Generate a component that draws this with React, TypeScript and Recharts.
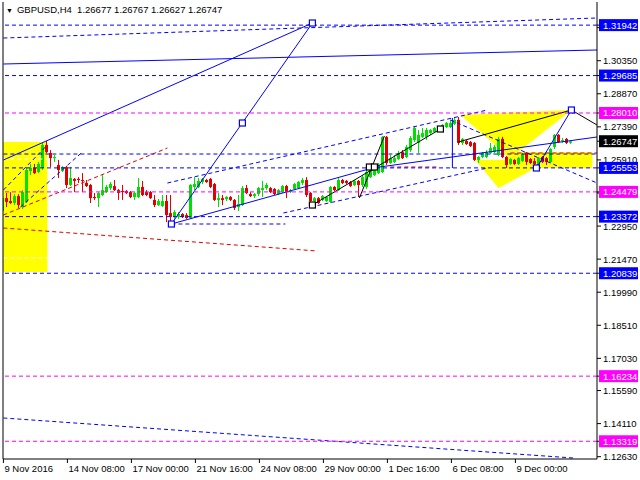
import React from "react";
import {
  ComposedChart,
  Bar,
  XAxis,
  YAxis,
  ReferenceLine,
  ReferenceArea,
  ReferenceDot,
} from "recharts";

// GBPUSD H4 candles (open / high / low / close)
const opens = [
  1.2362, 1.2420, 1.2407, 1.2398, 1.2429, 1.2380, 1.2403, 1.2541, 1.2555, 1.2537,
  1.2555, 1.2658, 1.2622, 1.2599, 1.2568, 1.2541, 1.2559, 1.2479, 1.2506, 1.2506,
  1.2501, 1.2488, 1.2479, 1.2425, 1.2420, 1.2434, 1.2447, 1.2465, 1.2474, 1.2456,
  1.2452, 1.2452, 1.2447, 1.2425, 1.2425, 1.2470, 1.2447, 1.2447, 1.2412, 1.2389,
  1.2385, 1.2407, 1.2353, 1.2336, 1.2336, 1.2349, 1.2344, 1.2331, 1.2470, 1.2470,
  1.2492, 1.2501, 1.2506, 1.2483, 1.2412, 1.2420, 1.2416, 1.2425, 1.2412, 1.2380,
  1.2389, 1.2465, 1.2438, 1.2429, 1.2438, 1.2456, 1.2465, 1.2465, 1.2461, 1.2438,
  1.2447, 1.2474, 1.2447, 1.2461, 1.2465, 1.2488, 1.2501, 1.2443, 1.2407, 1.2420,
  1.2412, 1.2407, 1.2403, 1.2470, 1.2456, 1.2501, 1.2497, 1.2492, 1.2479, 1.2497,
  1.2479, 1.2470, 1.2514, 1.2523, 1.2532, 1.2537, 1.2694, 1.2577, 1.2582, 1.2595,
  1.2626, 1.2604, 1.2635, 1.2680, 1.2667, 1.2694, 1.2694, 1.2711, 1.2716, 1.2725,
  1.2738, 1.2738, 1.2738, 1.2752, 1.2770, 1.2667, 1.2676, 1.2671, 1.2667, 1.2591,
  1.2604, 1.2604, 1.2622, 1.2626, 1.2613, 1.2685, 1.2604, 1.2573, 1.2591, 1.2573,
  1.2586, 1.2622, 1.2595, 1.2586, 1.2568, 1.2604, 1.2599, 1.2582, 1.2649, 1.2703,
  1.2676, 1.2685, 1.26677,
];
const highs = [
  1.2443, 1.2443, 1.2447, 1.2438, 1.2438, 1.2456, 1.2555, 1.2573, 1.2573, 1.2582,
  1.2667, 1.2676, 1.2635, 1.2613, 1.2591, 1.2564, 1.2564, 1.2559, 1.2510, 1.2514,
  1.2532, 1.2501, 1.2483, 1.2443, 1.2447, 1.2523, 1.2479, 1.2492, 1.2501, 1.2461,
  1.2479, 1.2456, 1.2452, 1.2447, 1.2510, 1.2497, 1.2456, 1.2452, 1.2434, 1.2416,
  1.2434, 1.2434, 1.2434, 1.2367, 1.2358, 1.2353, 1.2353, 1.2483, 1.2514, 1.2510,
  1.2510, 1.2506, 1.2510, 1.2488, 1.2443, 1.2434, 1.2429, 1.2429, 1.2416, 1.2434,
  1.2474, 1.2479, 1.2447, 1.2443, 1.2470, 1.2497, 1.2488, 1.2470, 1.2465, 1.2461,
  1.2479, 1.2479, 1.2461, 1.2488, 1.2497, 1.2510, 1.2514, 1.2447, 1.2425, 1.2425,
  1.2434, 1.2429, 1.2474, 1.2474, 1.2510, 1.2506, 1.2501, 1.2497, 1.2501, 1.2501,
  1.2523, 1.2546, 1.2564, 1.2555, 1.2577, 1.2698, 1.2698, 1.2613, 1.2613, 1.2631,
  1.2635, 1.2658, 1.2698, 1.2743, 1.2725, 1.2734, 1.2734, 1.2729, 1.2738, 1.2743,
  1.2752, 1.2761, 1.2770, 1.2779, 1.2783, 1.2689, 1.2680, 1.2676, 1.2671, 1.2608,
  1.2626, 1.2635, 1.2667, 1.2658, 1.2694, 1.2694, 1.2608, 1.2599, 1.2595, 1.2604,
  1.2622, 1.2626, 1.2599, 1.2599, 1.2604, 1.2608, 1.2604, 1.2644, 1.2707, 1.2707,
  1.2689, 1.2689, 1.26767,
];
const lows = [
  1.2353, 1.2380, 1.2394, 1.2389, 1.2376, 1.2371, 1.2398, 1.2523, 1.2528, 1.2532,
  1.2546, 1.2622, 1.2559, 1.2582, 1.2510, 1.2537, 1.2465, 1.2474, 1.2447, 1.2488,
  1.2447, 1.2470, 1.2398, 1.2412, 1.2380, 1.2429, 1.2443, 1.2456, 1.2452, 1.2412,
  1.2412, 1.2438, 1.2420, 1.2412, 1.2420, 1.2429, 1.2429, 1.2416, 1.2380, 1.2385,
  1.2380, 1.2313, 1.2309, 1.2327, 1.2327, 1.2331, 1.2327, 1.2327, 1.2456, 1.2465,
  1.2483, 1.2488, 1.2465, 1.2407, 1.2380, 1.2389, 1.2407, 1.2407, 1.2367, 1.2362,
  1.2385, 1.2438, 1.2425, 1.2420, 1.2429, 1.2425, 1.2456, 1.2443, 1.2434, 1.2434,
  1.2443, 1.2420, 1.2443, 1.2456, 1.2461, 1.2479, 1.2425, 1.2398, 1.2403, 1.2394,
  1.2407, 1.2403, 1.2398, 1.2452, 1.2452, 1.2483, 1.2483, 1.2470, 1.2474, 1.2425,
  1.2470, 1.2461, 1.2510, 1.2519, 1.2528, 1.2532, 1.2568, 1.2573, 1.2577, 1.2591,
  1.2595, 1.2599, 1.2626, 1.2671, 1.2622, 1.2689, 1.2680, 1.2703, 1.2711, 1.2720,
  1.2729, 1.2734, 1.2734, 1.2747, 1.2658, 1.2658, 1.2658, 1.2649, 1.2586, 1.2577,
  1.2599, 1.2599, 1.2617, 1.2622, 1.2608, 1.2599, 1.2555, 1.2568, 1.2568, 1.2568,
  1.2582, 1.2568, 1.2573, 1.2559, 1.2564, 1.2577, 1.2568, 1.2577, 1.2640, 1.2667,
  1.2667, 1.2662, 1.26627,
];
const closes = [
  1.2420, 1.2403, 1.2398, 1.2429, 1.2389, 1.2447, 1.2546, 1.2555, 1.2532, 1.2573,
  1.2658, 1.2626, 1.2599, 1.2604, 1.2546, 1.2559, 1.2479, 1.2510, 1.2497, 1.2501,
  1.2497, 1.2474, 1.2420, 1.2420, 1.2443, 1.2456, 1.2470, 1.2483, 1.2456, 1.2443,
  1.2447, 1.2443, 1.2425, 1.2443, 1.2470, 1.2434, 1.2434, 1.2420, 1.2389, 1.2407,
  1.2407, 1.2344, 1.2336, 1.2358, 1.2349, 1.2336, 1.2331, 1.2479, 1.2483, 1.2497,
  1.2506, 1.2492, 1.2470, 1.2412, 1.2420, 1.2412, 1.2425, 1.2412, 1.2376, 1.2394,
  1.2465, 1.2443, 1.2429, 1.2438, 1.2465, 1.2465, 1.2479, 1.2447, 1.2438, 1.2456,
  1.2474, 1.2447, 1.2456, 1.2483, 1.2492, 1.2501, 1.2434, 1.2407, 1.2420, 1.2398,
  1.2429, 1.2425, 1.2470, 1.2456, 1.2501, 1.2488, 1.2488, 1.2474, 1.2497, 1.2479,
  1.2514, 1.2537, 1.2555, 1.2546, 1.2568, 1.2694, 1.2577, 1.2599, 1.2599, 1.2622,
  1.2599, 1.2649, 1.2689, 1.2734, 1.2703, 1.2711, 1.2725, 1.2725, 1.2734, 1.2738,
  1.2747, 1.2756, 1.2756, 1.2770, 1.2667, 1.2685, 1.2662, 1.2653, 1.2591, 1.2604,
  1.2622, 1.2626, 1.2644, 1.2649, 1.2685, 1.2604, 1.2568, 1.2595, 1.2573, 1.2599,
  1.2617, 1.2582, 1.2577, 1.2573, 1.2599, 1.2582, 1.2582, 1.2640, 1.2703, 1.2671,
  1.2680, 1.2667, 1.26747,
];

const dateLabels = [
  "9 Nov 2016",
  "14 Nov 08:00",
  "17 Nov 00:00",
  "21 Nov 16:00",
  "24 Nov 08:00",
  "29 Nov 00:00",
  "1 Dec 16:00",
  "6 Dec 08:00",
  "9 Dec 00:00",
];
const dateTicks = dateLabels.map((_, k) => k * 16);

const priceTicks = [
  1.3183, 1.3035, 1.2887, 1.2739, 1.2591, 1.2443, 1.2295, 1.2147, 1.1999, 1.1851,
  1.1703, 1.1559, 1.1411, 1.1263,
];

// horizontal levels with their price tags on the right
const blueLevels = [1.31942, 1.29685, 1.25553, 1.23372, 1.20839];
const magentaLevels = [1.2801, 1.24479, 1.16234, 1.13319];
const lastPrice = 1.26747;

// trend lines: [barFrom, priceFrom, barTo, priceTo]
const blueSolid = [
  [0, 1.30202, 148.4, 1.30829],
  [0, 1.25906, 77.25, 1.32037],
  [77.25, 1.32037, 42, 1.23042],
  [42, 1.23042, 92.25, 1.25548],
  [92.25, 1.25548, 148.4, 1.26936],
  [112.25, 1.27786, 112.25, 1.25548],
  [142, 1.28144, 133.75, 1.25682],
];
const blueDashed = [
  [0, 1.31365, 148.4, 1.32261],
  [41, 1.24877, 121, 1.28144],
  [111.75, 1.27696, 148.4, 1.24877],
  [0, 1.14361, 142.5, 1.1257],
  [42, 1.23042, 70.5, 1.23042],
  [0, 1.26174, 148.4, 1.26174],
  [70, 1.23534, 121, 1.25548],
  [0, 1.24564, 11, 1.26577],
  [4.25, 1.23803, 19.75, 1.26264],
];
const redDashed = [
  [0, 1.23445, 41, 1.26443],
  [0, 1.22863, 78.5, 1.21834],
  [96.75, 1.25593, 108.5, 1.25593],
  [126.75, 1.26219, 148.4, 1.26219],
];
const blackLines = [
  [77.25, 1.23892, 109.25, 1.27293],
  [89, 1.24206, 95.25, 1.2698],
  [113.75, 1.26712, 142, 1.28144],
  [142, 1.28144, 148.4, 1.27472],
];
const whiteDashed = [
  [0, 1.25951, 11, 1.25951],
  [0, 1.21521, 11, 1.21521],
];

// yellow patterns
const yellowBoxes = [
  [-0.1, 1.20894, 11, 1.26712],
  [125.5, 1.25548, 147.25, 1.26264],
];
const yellowTriangles = [
  [[114.25, 1.2792], [142, 1.28144], [126.75, 1.25996]],
  [[118, 1.25906], [136.75, 1.25906], [123.75, 1.24653]],
];

const blueSquares = [
  [77.25, 1.32037],
  [59.75, 1.27562],
  [42, 1.23042],
  [142, 1.28144],
  [133.25, 1.25548],
];
const blackSquares = [
  [77.25, 1.23892],
  [91.5, 1.25593],
  [92.75, 1.25593],
  [109.25, 1.27293],
];

const data = opens.map((o, i) => ({
  i,
  o,
  h: highs[i],
  l: lows[i],
  c: closes[i],
}));

const GREEN = "#00e000";
const RED = "#e00000";
const BLUE = "#0000ff";
const MAGENTA = "#ff00ff";
const FONT = "'Liberation Sans', Arial, sans-serif";

// price tags are drawn as the last ticks of the price axis so they cover the plain ones
const tagColor = new Map<number, string>();
blueLevels.forEach((v) => tagColor.set(v, BLUE));
magentaLevels.forEach((v) => tagColor.set(v, MAGENTA));
tagColor.set(lastPrice, "#000");
const axisTicks = [...priceTicks, ...tagColor.keys()];

const Candle = (props: any) => {
  const { x, y, width, height, payload } = props;
  const { o, h, l, c } = payload;
  const top = Math.min(y, y + height);
  const span = Math.abs(height);
  const k = h > l ? span / (h - l) : 0;
  const py = (v: number) => top + (h - v) * k;
  const color = c >= o ? GREEN : RED;
  const cx = Math.floor(x + width / 2) + 0.5;
  const bTop = py(Math.max(o, c));
  const bBot = py(Math.min(o, c));
  return (
    <g>
      <line x1={cx} x2={cx} y1={top} y2={top + span} stroke={color} strokeWidth={1} />
      <rect x={cx - 1.5} y={bTop} width={3} height={Math.max(1, bBot - bTop)} fill={color} />
    </g>
  );
};

const PriceTick = (props: any) => {
  const { x, y, payload } = props;
  const v = payload.value as number;
  const fill = tagColor.get(v);
  if (fill) {
    return (
      <g>
        <rect x={x - 4} y={y - 6} width={39} height={12} fill={fill} />
        <text x={x} y={y + 3.5} fill="#fff" fontSize={9.5} fontFamily={FONT}>
          {v.toFixed(5)}
        </text>
      </g>
    );
  }
  return (
    <text x={x} y={y + 3.5} fill="#000" fontSize={9.5} fontFamily={FONT}>
      {v.toFixed(5)}
    </text>
  );
};

const DateTick = (props: any) => {
  const { x, y, payload } = props;
  return (
    <text x={x + 1} y={y} dy="0.71em" textAnchor="start" fontSize={9.5} fontFamily={FONT} fill="#000">
      {dateLabels[payload.value / 16]}
    </text>
  );
};

const triangleShape = (pts: number[][]) => (props: any) => {
  const { x, y, width, height } = props;
  const xs = pts.map((p) => p[0]);
  const ys = pts.map((p) => p[1]);
  const x0 = Math.min(...xs);
  const x1 = Math.max(...xs);
  const y0 = Math.min(...ys);
  const y1 = Math.max(...ys);
  const d = pts
    .map((p) => `${x + ((p[0] - x0) / (x1 - x0)) * width},${y + ((y1 - p[1]) / (y1 - y0)) * height}`)
    .join(" ");
  return <polygon points={d} fill="#ffff00" stroke="none" />;
};

const square = (color: string) => (props: any) => (
  <rect x={props.cx - 3} y={props.cy - 3} width={6} height={6} fill="#fff" stroke={color} strokeWidth={1.2} />
);

const segs = (list: number[][], color: string, dash?: string, width = 1) =>
  list.map((s, k) => (
    <ReferenceLine
      key={`${color}-${dash}-${k}`}
      segment={[
        { x: s[0], y: s[1] },
        { x: s[2], y: s[3] },
      ]}
      stroke={color}
      strokeDasharray={dash}
      strokeWidth={width}
      ifOverflow="hidden"
    />
  ));

export default function App() {
  return (
    <div style={{ position: "absolute", left: 0, top: 0, width: 640, height: 480, background: "#fff" }}>
      <ComposedChart width={640} height={480} data={data} margin={{ top: 2, right: 0, left: 3, bottom: 0 }}>
        <XAxis
          dataKey="i"
          type="number"
          domain={[-0.1, 148.4]}
          ticks={dateTicks}
          tick={<DateTick />}
          tickSize={4}
          tickMargin={2}
          height={21}
          stroke="#000"
          allowDataOverflow
          interval={0}
        />
        <YAxis
          orientation="right"
          type="number"
          domain={[1.12526, 1.32977]}
          ticks={axisTicks}
          tick={<PriceTick />}
          tickSize={4}
          tickMargin={2}
          width={43}
          stroke="#000"
          allowDataOverflow
          interval={0}
        />
        {yellowBoxes.map((b, k) => (
          <ReferenceArea key={`yb${k}`} x1={b[0]} x2={b[2]} y1={b[1]} y2={b[3]} fill="#ffff00" fillOpacity={1} stroke="none" ifOverflow="hidden" />
        ))}
        {yellowTriangles.map((t, k) => (
          <ReferenceArea
            key={`yt${k}`}
            x1={Math.min(...t.map((p) => p[0]))}
            x2={Math.max(...t.map((p) => p[0]))}
            y1={Math.min(...t.map((p) => p[1]))}
            y2={Math.max(...t.map((p) => p[1]))}
            shape={triangleShape(t)}
            ifOverflow="hidden"
          />
        ))}
        {segs(whiteDashed, "#ffffff", "4 3")}
        {segs(redDashed, RED, "4 3")}
        {segs(blueDashed, BLUE, "4 3")}
        <ReferenceLine x={-0.1} stroke="#000" />
        <Bar dataKey={(d: any) => [d.l, d.h]} shape={<Candle />} barSize={3} isAnimationActive={false} />
        {segs(blueSolid, BLUE)}
        {segs(blackLines, "#000")}
        {blueLevels.map((v) => (
          <ReferenceLine key={`bl${v}`} y={v} stroke={BLUE} strokeDasharray="4 3" />
        ))}
        {magentaLevels.map((v) => (
          <ReferenceLine key={`ml${v}`} y={v} stroke={MAGENTA} strokeDasharray="4 3" />
        ))}
        {blueSquares.map((s, k) => (
          <ReferenceDot key={`bs${k}`} x={s[0]} y={s[1]} r={3} shape={square(BLUE)} ifOverflow="visible" />
        ))}
        {blackSquares.map((s, k) => (
          <ReferenceDot key={`ks${k}`} x={s[0]} y={s[1]} r={3} shape={square("#000")} ifOverflow="visible" />
        ))}
      </ComposedChart>
      <div
        style={{
          position: "absolute",
          left: 6,
          top: 4,
          fontFamily: FONT,
          fontSize: 9.5,
          color: "#000",
          whiteSpace: "pre",
          lineHeight: "12px",
        }}
      >
        <span style={{ fontSize: 7, marginRight: 4 }}>▼</span>GBPUSD,H4  1.26677 1.26767 1.26627 1.26747
      </div>
    </div>
  );
}
